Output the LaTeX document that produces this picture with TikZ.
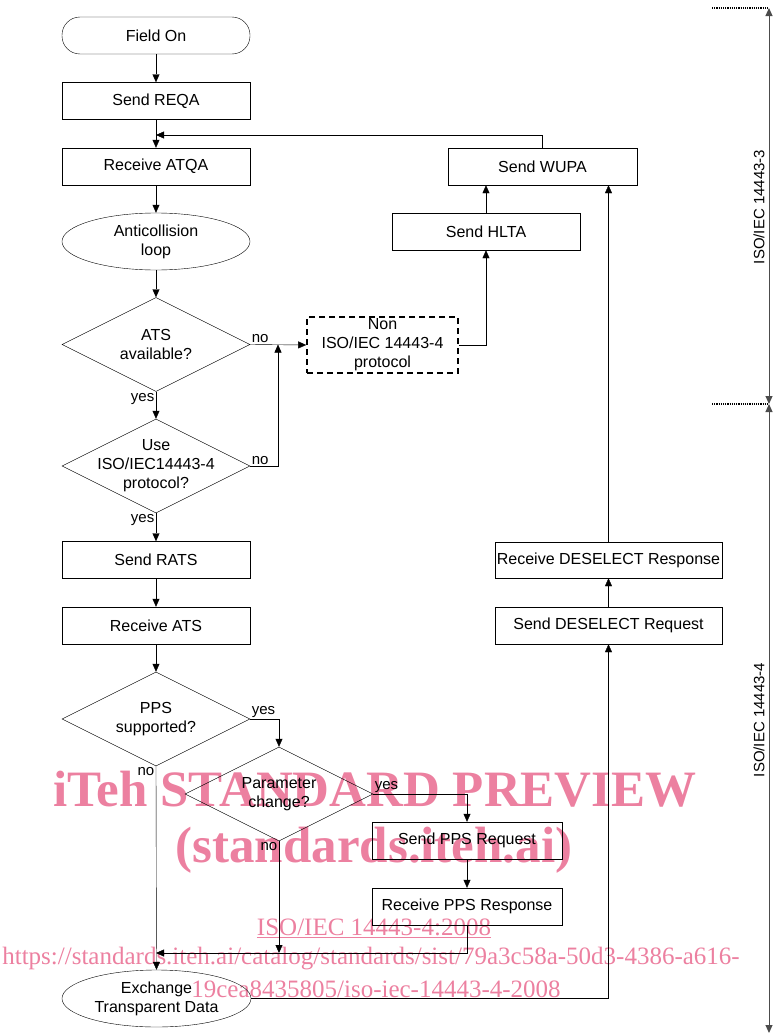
\documentclass[tikz,border=0pt]{standalone}
\usepackage{fontspec}
\setmainfont{Liberation Sans}
\newfontfamily\wmfont{Liberation Serif}
\usetikzlibrary{arrows.meta,shapes.geometric}
\definecolor{wmpink}{RGB}{236,128,160}

\begin{document}
\begin{tikzpicture}[
  x=1pt, y=-1pt,
  font=\fontsize{16}{19}\selectfont,
  box/.style={draw, rectangle, minimum width=188pt, minimum height=37pt, inner sep=0pt, align=center},
  terminal/.style={box, rounded corners=18pt},
  loopnode/.style={draw, ellipse, minimum width=188pt, minimum height=57pt, inner sep=0pt, align=center},
  decision/.style={draw, diamond, minimum width=188pt, minimum height=94pt, inner sep=0pt},
  qtext/.style={align=center, inner sep=0pt},
  otherproto/.style={box, minimum width=151pt, minimum height=56pt, line width=1.6pt, dash pattern=on 6pt off 4pt},
  lbl/.style={font=\fontsize{15}{18}\selectfont, inner sep=1.5pt},
  arr/.style={-{Triangle[length=8pt,width=7pt]}},
  bracket/.style={{Triangle[length=8pt,width=7pt]}-{Triangle[length=8pt,width=7pt]}, line width=1pt, black!70},
  partline/.style={line width=1.2pt, densely dotted},
  partlabel/.style={rotate=90, font=\fontsize{15}{18}\selectfont},
  wmark/.style={text=wmpink, font=\wmfont, anchor=base}
]
\useasboundingbox (0,0) rectangle (773,1036);

% preview watermark (behind the chart)
\node[wmark, font=\wmfont\bfseries\fontsize{51}{51}\selectfont] (wmtitle) at (375,806) {iTeh STANDARD PREVIEW};
\node[wmark, font=\wmfont\bfseries\fontsize{51}{51}\selectfont] (wmsite) at (374,862) {(standards.iteh.ai)};
\node[wmark, font=\wmfont\fontsize{25}{25}\selectfont] (wmstd) at (374,935) {\underline{ISO/IEC 14443-4:2008}};
\node[wmark, font=\wmfont\fontsize{25}{25}\selectfont] (wmurla) at (371,964) {https://standards.iteh.ai/catalog/standards/sist/79a3c58a-50d3-4386-a616-};
\node[wmark, font=\wmfont\fontsize{25}{25}\selectfont] (wmurlb) at (376,997) {19cea8435805/iso-iec-14443-4-2008};

% main column
\node[terminal] (fieldon) at (156,35.5) {Field On};
\node[box] (reqa) at (156,101) {Send REQA};
\node[box] (atqa) at (156,166.5) {Receive ATQA};
\node[loopnode] (anticoll) at (156,241.5) {Anticollision\\loop};
\node[decision, label={[qtext]center:ATS\\available?}] (atsq) at (156,344.5) {};
\node[decision, label={[qtext]center:Use\\ISO/IEC14443-4\\protocol?}] (useq) at (156,466) {};
\node[box] (rats) at (156,560) {Send RATS};
\node[box] (ats) at (156,625.5) {Receive ATS};
\node[decision, label={[qtext]center:PPS\\supported?}] (ppsq) at (156,719) {};
\node[decision, label={[qtext]center:Parameter\\change?}] (paramq) at (279,794) {};
\node[box, minimum width=190pt] (ppsreq) at (467,840.5) {Send PPS Request};
\node[box, minimum width=190pt] (ppsresp) at (467,906.5) {Receive PPS Response};
\node[loopnode, minimum width=189pt] (exch) at (156.5,998.5) {Exchange\\Transparent Data};

% right column
\node[otherproto] (nonproto) at (382.5,345) {Non\\ISO/IEC 14443-4\\protocol};
\node[box] (hlta) at (486,231.5) {Send HLTA};
\node[box, minimum width=189pt] (wupa) at (542.5,166.5) {Send WUPA};
\node[box, minimum width=227pt, minimum height=36pt] (desresp) at (608.5,560) {Receive DESELECT Response};
\node[box, minimum width=227pt] (desreq) at (608.5,625.5) {Send DESELECT Request};

\coordinate (atqajoin) at (156,135);
\coordinate (nojoin) at (278,344.5);
\coordinate (collect) at (156,953);

\draw[arr] (fieldon) -- (reqa);
\draw[arr] (reqa) -- (atqa);
\draw[arr] (atqa) -- (anticoll);
\draw[arr] (anticoll) -- (atsq.north);
\draw[arr] (atsq.south) -- node[lbl, pos=0, anchor=north east]{yes} (useq.north);
\draw[arr] (atsq.east) -- node[lbl, pos=0, anchor=south west]{no} (nonproto.west);
\draw[arr] (useq.east) -| node[lbl, pos=0, anchor=south west]{no} (nojoin);
\draw[arr] (useq.south) -- node[lbl, pos=0, anchor=north east]{yes} (rats);
\draw[arr] (rats) -- (ats);
\draw[arr] (ats) -- (ppsq.north);
\draw[arr] (ppsq.east) -| node[lbl, pos=0, anchor=south west]{yes} (paramq.north);
\draw[arr] (paramq.east) -| node[lbl, pos=0, anchor=south west]{yes} (ppsreq.north);
\draw[arr] (ppsreq) -- (ppsresp);
\draw[arr] (ppsresp.south) |- (collect);
\draw[arr] (paramq.south) -- node[lbl, pos=0, anchor=north east]{no} (paramq.south |- collect);
\draw[arr] (ppsq.south) -- node[lbl, pos=0, anchor=north east]{no} (exch.north);
\draw[arr] (exch.east) -| (desreq.south);
\draw[arr] (desreq) -- (desresp);
\draw[arr] (desresp.north) -- (desresp.north |- wupa.south);
\draw[arr] (nonproto.east) -| (hlta.south);
\draw[arr] (hlta.north) -- (hlta.north |- wupa.south);
\draw[arr] (wupa.north) |- (atqajoin);

% protocol parts
\coordinate (topmark) at (769,8);
\coordinate (midmark) at (769,404);
\coordinate (botmark) at (769,1033);
\coordinate (topstub) at (712,8);
\coordinate (midstub) at (712,404);
\draw[partline] (topstub) -- (topmark);
\draw[partline] (midstub) -- (midmark);
\draw[bracket] (topmark) -- (midmark);
\draw[bracket] (midmark) -- (botmark);
\node[partlabel] (part3) at (759,207) {ISO/IEC 14443-3};
\node[partlabel] (part4) at (759,720) {ISO/IEC 14443-4};
\end{tikzpicture}
\end{document}
